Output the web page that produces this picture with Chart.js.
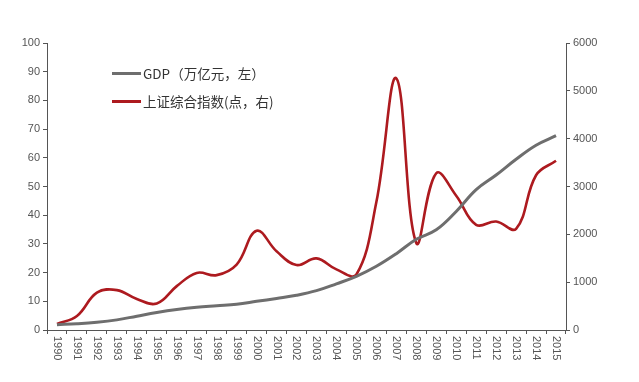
<!DOCTYPE html>
<html>
<head>
<meta charset="utf-8">
<script src="https://cdn.jsdelivr.net/npm/chart.js@4"></script>
<style>
html,body{margin:0;padding:0;background:#fff;}
#wrap{position:relative;width:639px;height:382px;}
#legend{position:absolute;left:112px;top:59px;font-family:"Noto Sans CJK SC","Noto Sans",sans-serif;font-size:13.5px;color:#333;}
.item{display:flex;align-items:center;height:28px;}
.swatch{display:inline-block;width:29px;height:3px;margin-right:2px;}
</style>
</head>
<body>
<div id="wrap">
<canvas id="c" width="639" height="382"></canvas>
<div id="legend"></div>
</div>
<script>
const years = ['1990','1991','1992','1993','1994','1995','1996','1997','1998','1999','2000','2001','2002','2003','2004','2005','2006','2007','2008','2009','2010','2011','2012','2013','2014','2015'];
const gdp = [1.87,2.18,2.69,3.53,4.82,6.08,7.12,7.90,8.44,8.97,9.98,11.0,12.1,13.7,16.1,18.7,22.2,26.6,31.6,34.9,41.3,48.9,54.0,59.5,64.4,67.7];
const sse = [128,293,780,834,648,555,917,1194,1147,1367,2074,1646,1358,1497,1267,1161,2675,5262,1821,3277,2808,2199,2269,2116,3235,3539];
const leftTicks = [0,100,10];
const rightTicks = [0,6000,1000];
const seriesNames = ['GDP（万亿元，左）','上证综合指数(点，右)'];
const colors = ['#6e6e6e','#ad1a1f'];

const lg = document.getElementById('legend');
seriesNames.forEach((n,i)=>{
  const d=document.createElement('div');d.className='item';
  const s=document.createElement('span');s.className='swatch';s.style.background=colors[i];
  const t=document.createElement('span');t.textContent=n;
  d.appendChild(s);d.appendChild(t);lg.appendChild(d);
});

const xLabelPlugin = {
  id:'xlabels',
  afterDraw(chart){
    const xs=chart.scales.x, ctx=chart.ctx;
    ctx.save();
    ctx.fillStyle='#555';
    ctx.font='11px "Liberation Sans", Arial, sans-serif';
    ctx.textAlign='left';ctx.textBaseline='middle';
    years.forEach((y,i)=>{
      const x=xs.getPixelForValue(i);
      ctx.save();ctx.translate(x,xs.top+6);ctx.rotate(Math.PI/2);ctx.fillText(y,0,0);ctx.restore();
    });
    ctx.restore();
  }
};

const tickFont={family:'"Liberation Sans", Arial, sans-serif',size:11};
new Chart(document.getElementById('c'),{
  type:'line',
  data:{labels:years,datasets:[
    {label:seriesNames[0],data:gdp,yAxisID:'y',borderColor:colors[0],borderWidth:3,pointRadius:0,tension:0.4,fill:false},
    {label:seriesNames[1],data:sse,yAxisID:'y1',borderColor:colors[1],borderWidth:2.6,pointRadius:0,tension:0.4,fill:false}
  ]},
  options:{
    responsive:false,animation:false,
    layout:{padding:{top:43,left:0,right:0,bottom:0}},
    plugins:{legend:{display:false},tooltip:{enabled:false}},
    scales:{
      x:{offset:true,grid:{display:true,drawOnChartArea:false,offset:true,tickLength:4,color:'#555'},
         border:{color:'#555',width:1},ticks:{display:false},
         afterFit(s){s.height=52;}},
      y:{position:'left',min:leftTicks[0],max:leftTicks[1],
         ticks:{stepSize:leftTicks[2],color:'#555',font:tickFont,padding:3},
         grid:{drawOnChartArea:false,tickLength:4,color:'#555'},border:{color:'#555',width:1},
         afterFit(s){s.width=47;}},
      y1:{position:'right',min:rightTicks[0],max:rightTicks[1],
         ticks:{stepSize:rightTicks[2],color:'#555',font:tickFont,padding:3,callback:(v)=>String(v)},
         grid:{drawOnChartArea:false,tickLength:4,color:'#555'},border:{color:'#555',width:1},
         afterFit(s){s.width=73;}}
    }
  },
  plugins:[xLabelPlugin]
});
</script>
</body>
</html>
